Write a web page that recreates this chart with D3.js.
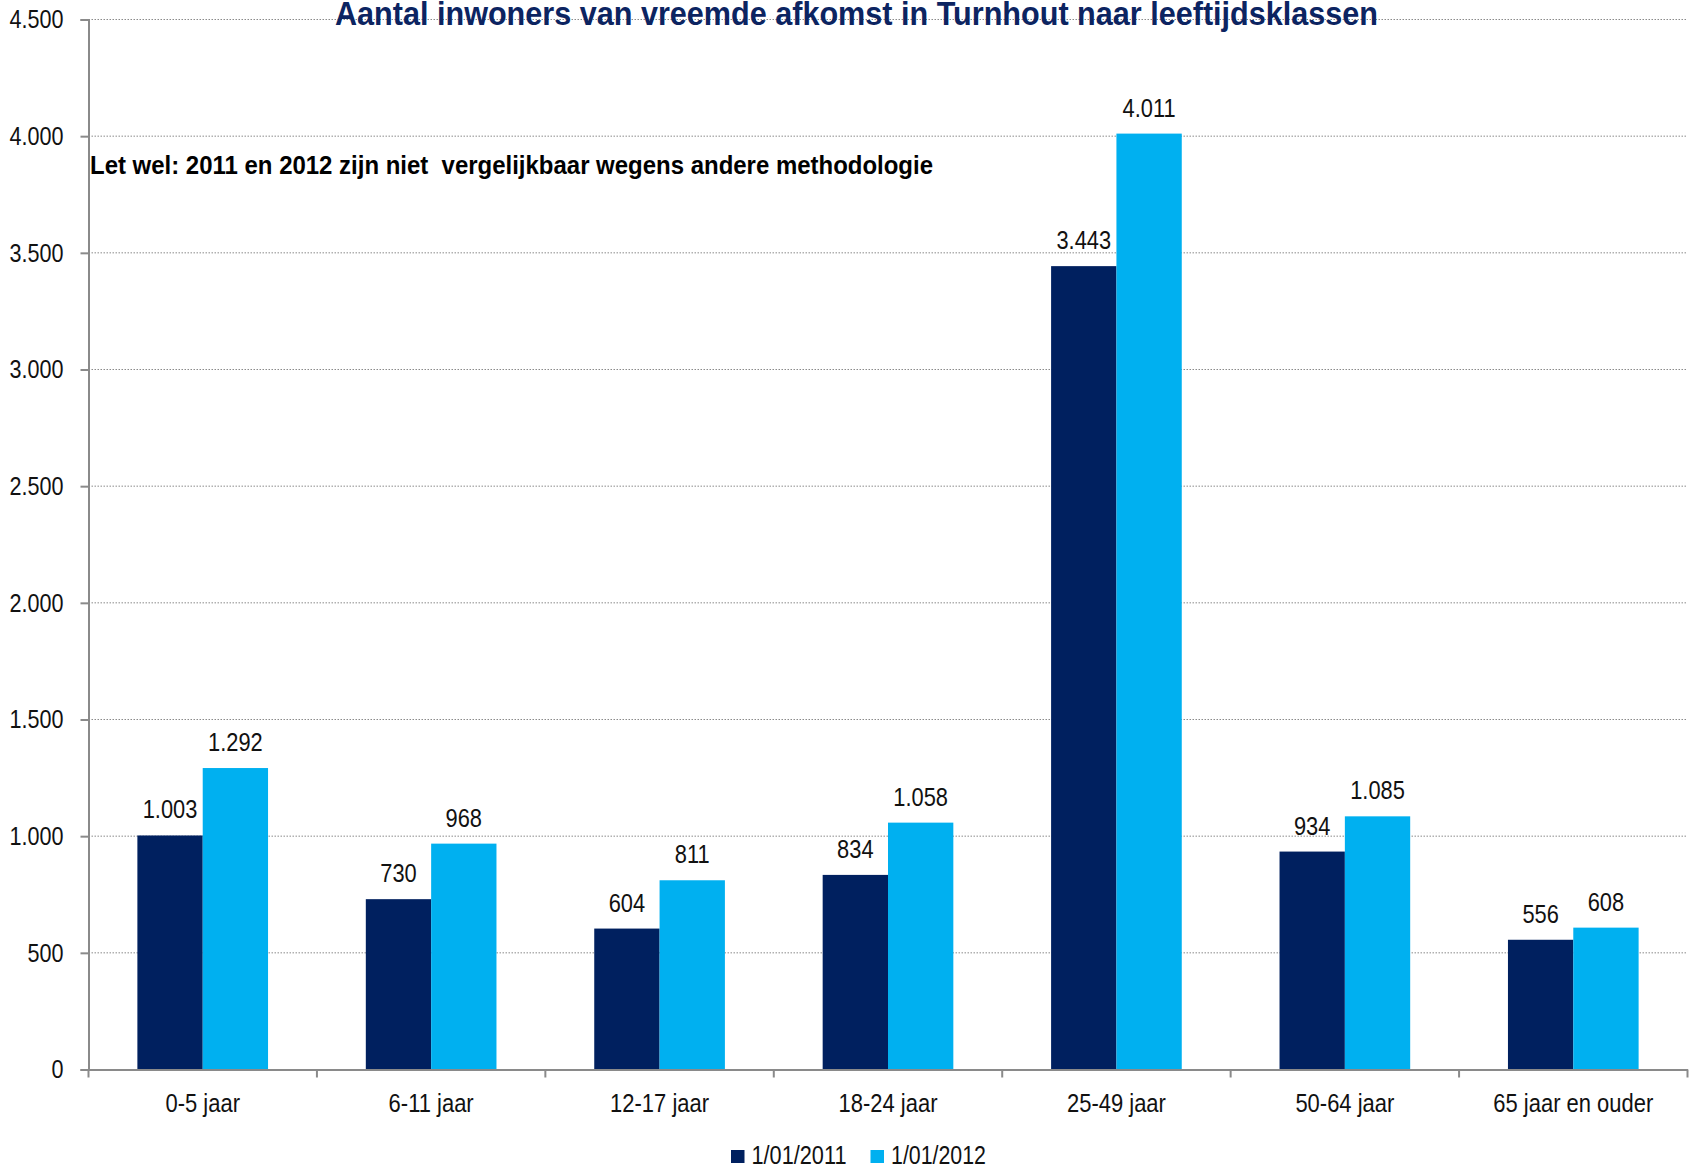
<!DOCTYPE html>
<html><head><meta charset="utf-8">
<script src="https://cdn.jsdelivr.net/npm/d3@7"></script>
<style>
html,body{margin:0;padding:0;background:#fff;}
svg text{font-family:"Liberation Sans",Arial,sans-serif;}
</style></head>
<body>
<svg id="chart" width="1694" height="1170"></svg>
<script>
const categories = ["0-5 jaar","6-11 jaar","12-17 jaar","18-24 jaar","25-49 jaar","50-64 jaar","65 jaar en ouder"];
const seriesNames = ["1/01/2011","1/01/2012"];
const values2011 = [1003,730,604,834,3443,934,556];
const values2012 = [1292,968,811,1058,4011,1085,608];
const yTicks = [0,500,1000,1500,2000,2500,3000,3500,4000,4500];
const colors = ["#00205F","#00B0F0"];
const titleText = "Aantal inwoners van vreemde afkomst in Turnhout naar leeftijdsklassen";
const noteText = "Let wel: 2011 en 2012 zijn niet  vergelijkbaar wegens andere methodologie";

(function(){
const svg = d3.select("#chart");
const pl = 88.5, pr = 1687.5, pt = 19.5, pb = 1069.5;
const fmt = v => d3.format(",")(v).replace(/,/g,".");
const FF = '"Liberation Sans",Arial,sans-serif';
function squeeze(sel, f){
  sel.each(function(){
    const L = this.getComputedTextLength();
    this.setAttribute("textLength", L*f);
    this.setAttribute("lengthAdjust","spacingAndGlyphs");
  });
}

const x = d3.scaleBand().domain(categories).range([pl,pr]).paddingInner(0.428).paddingOuter(0.214);
const xBand = d3.scaleBand().domain(categories).range([pl,pr]);
const xs = d3.scaleBand().domain(seriesNames).range([0,x.bandwidth()]);
const y = d3.scaleLinear().domain([0,4500]).range([pb,pt]);

svg.append("g").selectAll("line").data(yTicks.filter(d=>d>0)).join("line")
  .attr("x1",pl).attr("x2",pr).attr("y1",d=>y(d)).attr("y2",d=>y(d))
  .attr("stroke","#8a8a8a").attr("stroke-width",1).attr("stroke-dasharray","1.5,1.5");

const data = categories.map((c,i)=>({c, vals:[values2011[i],values2012[i]]}));
const g = svg.append("g").selectAll("g").data(data).join("g")
  .attr("transform",d=>`translate(${x(d.c)},0)`);
g.selectAll("rect").data(d=>d.vals.map((v,j)=>({v,s:seriesNames[j],j}))).join("rect")
  .attr("x",d=>xs(d.s)).attr("width",xs.bandwidth())
  .attr("y",d=>y(d.v)).attr("height",d=>pb-y(d.v))
  .attr("fill",d=>colors[d.j]);
const vl = g.selectAll("text").data(d=>d.vals.map((v,j)=>({v,s:seriesNames[j],j}))).join("text")
  .attr("x",d=>xs(d.s)+xs.bandwidth()/2).attr("y",d=>y(d.v)-17)
  .attr("text-anchor","middle").attr("font-size",26).attr("fill","#111")
  .text(d=>fmt(d.v));
squeeze(vl, 0.84);

const yAxis = d3.axisLeft(y).tickValues(yTicks).tickSize(8).tickFormat(fmt);
const ya = svg.append("g").attr("transform",`translate(${pl},0)`).call(yAxis);
ya.select(".domain").attr("stroke","#8a8a8a").attr("stroke-width",2);
ya.selectAll(".tick line").attr("stroke","#8a8a8a").attr("stroke-width",2);
const yt = ya.selectAll(".tick text").attr("font-size",26).attr("fill","#111").attr("x",-25).style("font-family",FF);
squeeze(yt, 0.83);

const xAxis = d3.axisBottom(xBand).tickSize(0).tickSizeOuter(0);
const xa = svg.append("g").attr("transform",`translate(0,${pb})`).call(xAxis);
xa.select(".domain").attr("stroke","#8a8a8a").attr("stroke-width",2);
const xt = xa.selectAll(".tick text").attr("font-size",26).attr("fill","#111").attr("dy",0).attr("y",42).style("font-family",FF);
squeeze(xt, 0.845);
const bounds = categories.map(c=>xBand(c)).concat([pr]);
xa.append("g").selectAll("line").data(bounds).join("line")
  .attr("x1",d=>d).attr("x2",d=>d).attr("y1",0).attr("y2",8)
  .attr("stroke","#8a8a8a").attr("stroke-width",2);

svg.append("text").attr("x",856.5).attr("y",24.5).attr("text-anchor","middle")
  .attr("font-size",33).attr("font-weight","bold").attr("fill","#0C2461")
  .attr("textLength",1043).attr("lengthAdjust","spacingAndGlyphs").text(titleText);
svg.append("text").attr("x",90).attr("y",174).attr("font-size",25.5)
  .attr("font-weight","bold").attr("fill","#000").style("white-space","pre")
  .attr("textLength",843).attr("lengthAdjust","spacingAndGlyphs").text(noteText);

const legend = svg.append("g");
const legX = [731, 870.5];
seriesNames.forEach((s,i)=>{
  legend.append("rect").attr("x",legX[i]).attr("y",1150).attr("width",13.5).attr("height",13).attr("fill",colors[i]);
  legend.append("text").attr("x",legX[i]+20.5).attr("y",1164).attr("font-size",25).attr("fill","#111")
    .attr("textLength",95).attr("lengthAdjust","spacingAndGlyphs").text(s);
});
})();
</script>
</body></html>
